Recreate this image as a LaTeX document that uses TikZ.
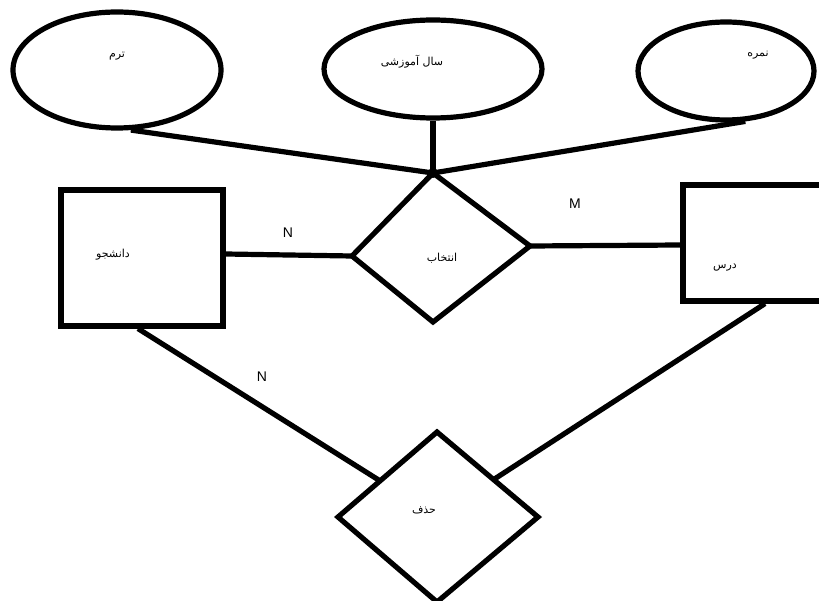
\documentclass[tikz,border=0pt]{standalone}
\usepackage{fontspec}
\newfontfamily\arabicfont[Script=Arabic]{DejaVu Sans}
\newfontfamily\latinfont{Liberation Sans}
\TeXXeTstate=1
\usetikzlibrary{shapes.geometric,calc}
\begin{document}
\begin{tikzpicture}[x=1pt,y=-1pt,line width=5.2pt,
  attr/.style={draw,ellipse,inner sep=0pt},
  ent/.style={draw,rectangle,inner sep=0pt},
  lbl/.style={font=\arabicfont\fontsize{11}{13}\selectfont,inner sep=0pt},
  card/.style={font=\latinfont\fontsize{14}{16}\selectfont,inner sep=0pt},
  conn/.style={line cap=butt}]
\useasboundingbox[fill=white] (0,0) rectangle (819,601);
% attributes
\node[attr,minimum width=208pt,minimum height=116pt] (term) at (117,70) {};
\node[attr,minimum width=218pt,minimum height=98pt] (year) at (433,69) {};
\node[attr,minimum width=176pt,minimum height=98pt] (grade) at (726,71) {};
\node[lbl] (termlbl) at (117,56) {\beginR ترم\endR};
\node[lbl] (yearlbl) at (412,62) {\beginR سال آموزشی\endR};
\node[lbl] (gradelbl) at (758,55) {\beginR نمره\endR};
% relationship انتخاب
\coordinate (selt) at (433,173);
\coordinate (sell) at (352,256);
\coordinate (selr) at (530,246);
\coordinate (selb) at (433,322);
\draw[line join=miter] (selt) -- (selr) -- (selb) -- (sell) -- cycle;
\node[lbl] (sellbl) at (442,258) {\beginR انتخاب\endR};
% entities
\node[ent,minimum width=162pt,minimum height=136pt] (stu) at (142,258) {};
\node[lbl] (stulbl) at (113,255) {\beginR دانشجو\endR};
\node[ent,minimum width=152pt,minimum height=116pt] (course) at (759,243) {};
\node[lbl] (courselbl) at (725,268) {\beginR درس\endR};
% relationship حذف
\coordinate (delt) at (437,432);
\coordinate (dell) at (338,517);
\coordinate (delr) at (538,517);
\coordinate (delb) at (437,602);
\draw[line join=miter] (delt) -- (delr) -- (delb) -- (dell) -- cycle;
\node[lbl] (dellbl) at (424,510) {\beginR حذف\endR};
% connectors
\draw[conn] (term.-77) -- (selt);
\draw[conn] (year.south) -- (selt);
\draw[conn] (grade.-69) -- (selt);
\fill (selt) circle (5pt);
\draw[conn] ([yshift=4pt]stu.east) -- (sell);
\draw[conn] (selr) -- ([yshift=-2pt]course.west);
\draw[conn] ([xshift=-4pt]stu.south) -- ($(delt)!0.575!(dell)$);
\draw[conn] ([xshift=6pt]course.south) -- ($(delt)!0.56!(delr)$);
% cardinalities
\node[card] (n1) at (288,233) {N};
\node[card] (m1) at (575,204) {M};
\node[card] (n2) at (262,377) {N};
\end{tikzpicture}
\end{document}
